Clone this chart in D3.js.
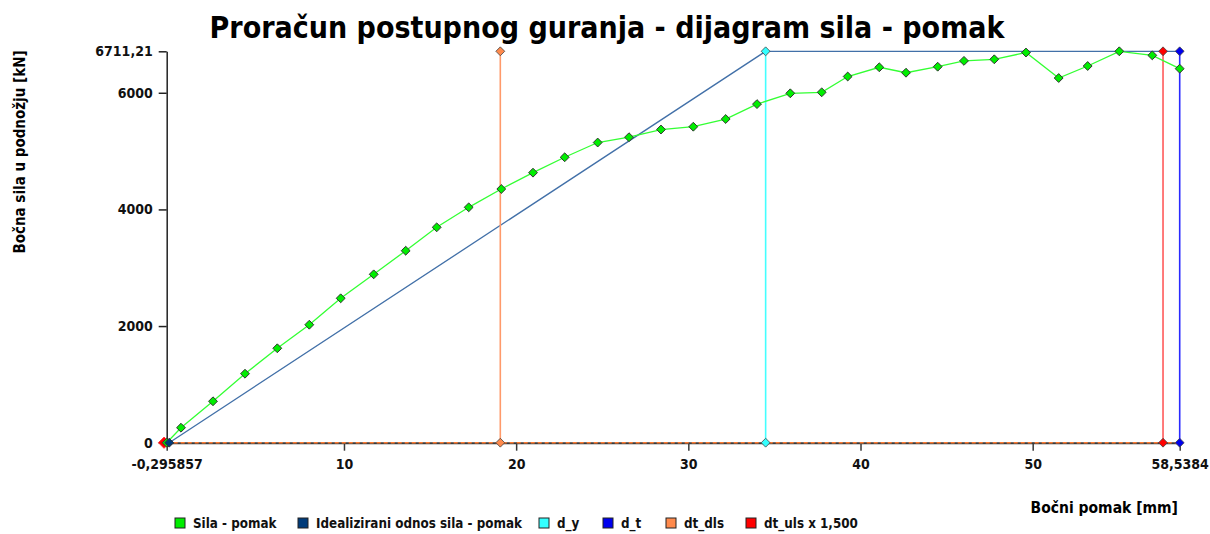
<!DOCTYPE html>
<html>
<head>
<meta charset="utf-8">
<script src="https://cdn.jsdelivr.net/npm/d3@7"></script>
<style>
  html, body { margin: 0; padding: 0; background: #fff; }
  svg { display: block; }
  text { font-family: "DejaVu Sans Condensed", "DejaVu Sans", sans-serif; }
</style>
</head>
<body>
<svg id="chart" width="1210" height="534"></svg>
<script>
// Pushover analysis: base shear vs. top displacement
const displacement = [-0.296, 0.535, 2.393, 4.252, 6.128, 7.986, 9.810, 11.727, 13.585, 15.385,
  17.244, 19.137, 20.979, 22.819, 24.736, 26.554, 28.412, 30.288, 32.170, 33.988,
  35.922, 37.746, 39.256, 41.091, 42.642, 44.483, 46.010, 47.770, 49.611, 51.510,
  53.194, 55.030, 56.946, 58.5384];
const force = [0, 257, 710, 1183, 1619, 2023, 2476, 2887, 3292, 3693,
  4036, 4350, 4630, 4894, 5147, 5238, 5370, 5418, 5550, 5806,
  5991, 6008, 6279, 6437, 6344, 6447, 6547, 6574, 6690, 6253,
  6459, 6711.21, 6642, 6413];

// Idealized bilinear curve
const idealDisp = [-0.15, 34.49, 58.5384];
const idealForce = [0, 6711.21, 6711.21];

// Characteristic displacements (vertical markers)
const dY = 34.49;
const dT = 58.5384;
const dtDls = 19.08;
const dtUls = 57.57;
const fMax = 6711.21;
const xMin = -0.295857;

const xTickValues = [-0.295857, 10, 20, 30, 40, 50, 58.5384];
const xTickLabels = ["-0,295857", "10", "20", "30", "40", "50", "58,5384"];
const yTickValues = [0, 2000, 4000, 6000, 6711.21];
const yTickLabels = ["0", "2000", "4000", "6000", "6711,21"];

const legendNames = ["Sila - pomak", "Idealizirani odnos sila - pomak", "d_y", "d_t", "dt_dls", "dt_uls x 1,500"];
const legendColors = ["#00ee00", "#003b7a", "#33ffff", "#0000ee", "#ff8a4c", "#ff0000"];

const svg = d3.select("#chart");
const x = d3.scaleLinear().domain([-0.295857, 58.5384]).range([166.7, 1179.7]);
const y = d3.scaleLinear().domain([0, 6711.21]).range([442.7, 51.3]);

const FONT = "'DejaVu Sans Condensed','DejaVu Sans',sans-serif";

// Title
svg.append("text")
  .attr("x", 607).attr("y", 38)
  .attr("text-anchor", "middle")
  .attr("font-size", 30).attr("font-weight", "bold")
  .attr("fill", "#000")
  .text("Proračun postupnog guranja - dijagram sila - pomak");

// Axes
const xAxis = d3.axisBottom(x).tickValues(xTickValues)
  .tickFormat((d, i) => xTickLabels[i]).tickSize(8).tickSizeOuter(0).tickPadding(8);
const yAxis = d3.axisLeft(y).tickValues(yTickValues)
  .tickFormat((d, i) => yTickLabels[i]).tickSize(8).tickSizeOuter(0).tickPadding(6);

const gx = svg.append("g").attr("transform", `translate(0,${y(0)})`).call(xAxis);
gx.select(".domain").attr("stroke", "#3a3a3a").attr("stroke-width", 2);
gx.selectAll(".tick line").attr("stroke", "#3a3a3a").attr("stroke-width", 1.5);
gx.selectAll(".tick text").attr("font-size", 14).attr("font-weight", "bold")
  .attr("fill", "#111").style("font-family", FONT);

const gy = svg.append("g").attr("transform", `translate(${x(xMin)},0)`).call(yAxis);
gy.select(".domain").attr("stroke", "#222").attr("stroke-width", 1.5);
gy.selectAll(".tick line").attr("stroke", "#222").attr("stroke-width", 1.5);
gy.selectAll(".tick text").attr("font-size", 14).attr("font-weight", "bold")
  .attr("fill", "#111").style("font-family", FONT);

// Axis titles
svg.append("text")
  .attr("transform", `translate(25,152) rotate(-90)`)
  .attr("text-anchor", "middle")
  .attr("font-size", 15).attr("font-weight", "bold")
  .text("Bočna sila u podnožju [kN]");
svg.append("text")
  .attr("x", 1178).attr("y", 513)
  .attr("text-anchor", "end")
  .attr("font-size", 15.5).attr("font-weight", "bold")
  .text("Bočni pomak [mm]");

// dt_dls baseline (dashed along zero force)
svg.append("line")
  .attr("x1", x(xMin)).attr("x2", x(dT))
  .attr("y1", y(0)).attr("y2", y(0))
  .attr("stroke", "#ff7a30").attr("stroke-width", 1.5)
  .attr("stroke-dasharray", "4,3");

const diamond = d3.symbol().type(d3.symbolDiamond2).size(50);

// Idealized curve
svg.append("path")
  .datum(idealDisp.map((d, i) => [d, idealForce[i]]))
  .attr("fill", "none").attr("stroke", "#4270a8").attr("stroke-width", 1.3)
  .attr("d", d3.line().x(d => x(d[0])).y(d => y(d[1])));

// Vertical markers
const verticals = [
  { v: dtDls, color: "#ff9a6a", fill: "#ff8a4c" },
  { v: dY, color: "#44ffff", fill: "#33ffff" },
  { v: dtUls, color: "#ff5a5a", fill: "#ff0000" },
  { v: dT, color: "#2a2aff", fill: "#0000ee" }
];
verticals.forEach(o => {
  svg.append("line")
    .attr("x1", x(o.v)).attr("x2", x(o.v))
    .attr("y1", y(0)).attr("y2", y(fMax))
    .attr("stroke", o.color).attr("stroke-width", 1.6);
});

// Force-displacement curve
const pts = displacement.map((d, i) => [d, force[i]]);
svg.append("path")
  .datum(pts)
  .attr("fill", "none").attr("stroke", "#33ff33").attr("stroke-width", 1.3)
  .attr("d", d3.line().x(d => x(d[0])).y(d => y(d[1])));

// Origin markers
svg.append("path").attr("d", d3.symbol().type(d3.symbolDiamond2).size(80)())
  .attr("transform", `translate(${x(-0.45)},${y(0)})`)
  .attr("fill", "#ff0000").attr("stroke", "#ff3030").attr("stroke-width", 1);

svg.selectAll(".pt").data(pts).enter().append("path")
  .attr("class", "pt")
  .attr("d", diamond())
  .attr("transform", d => `translate(${x(d[0])},${y(d[1])})`)
  .attr("fill", "#00ee00").attr("stroke", "#333").attr("stroke-width", 1);

svg.append("path").attr("d", diamond())
  .attr("transform", `translate(${x(idealDisp[0])},${y(0)})`)
  .attr("fill", "#003b7a").attr("stroke", "#333").attr("stroke-width", 1);

verticals.forEach(o => {
  [0, fMax].forEach(f => {
    svg.append("path").attr("d", diamond())
      .attr("transform", `translate(${x(o.v)},${y(f)})`)
      .attr("fill", o.fill).attr("stroke", "#444").attr("stroke-width", 0.8);
  });
});

// Legend
const legendX = [175, 298, 539, 603, 666, 746];
const lg = svg.append("g").attr("transform", "translate(0,524)");
legendNames.forEach((name, i) => {
  lg.append("rect")
    .attr("x", legendX[i]).attr("y", -6).attr("width", 10).attr("height", 10)
    .attr("fill", legendColors[i]).attr("stroke", "#222").attr("stroke-width", 1);
  lg.append("text")
    .attr("x", legendX[i] + 18).attr("y", 4)
    .attr("font-size", 13.3).attr("font-weight", "bold")
    .attr("fill", "#111")
    .text(name);
});
</script>
</body>
</html>
